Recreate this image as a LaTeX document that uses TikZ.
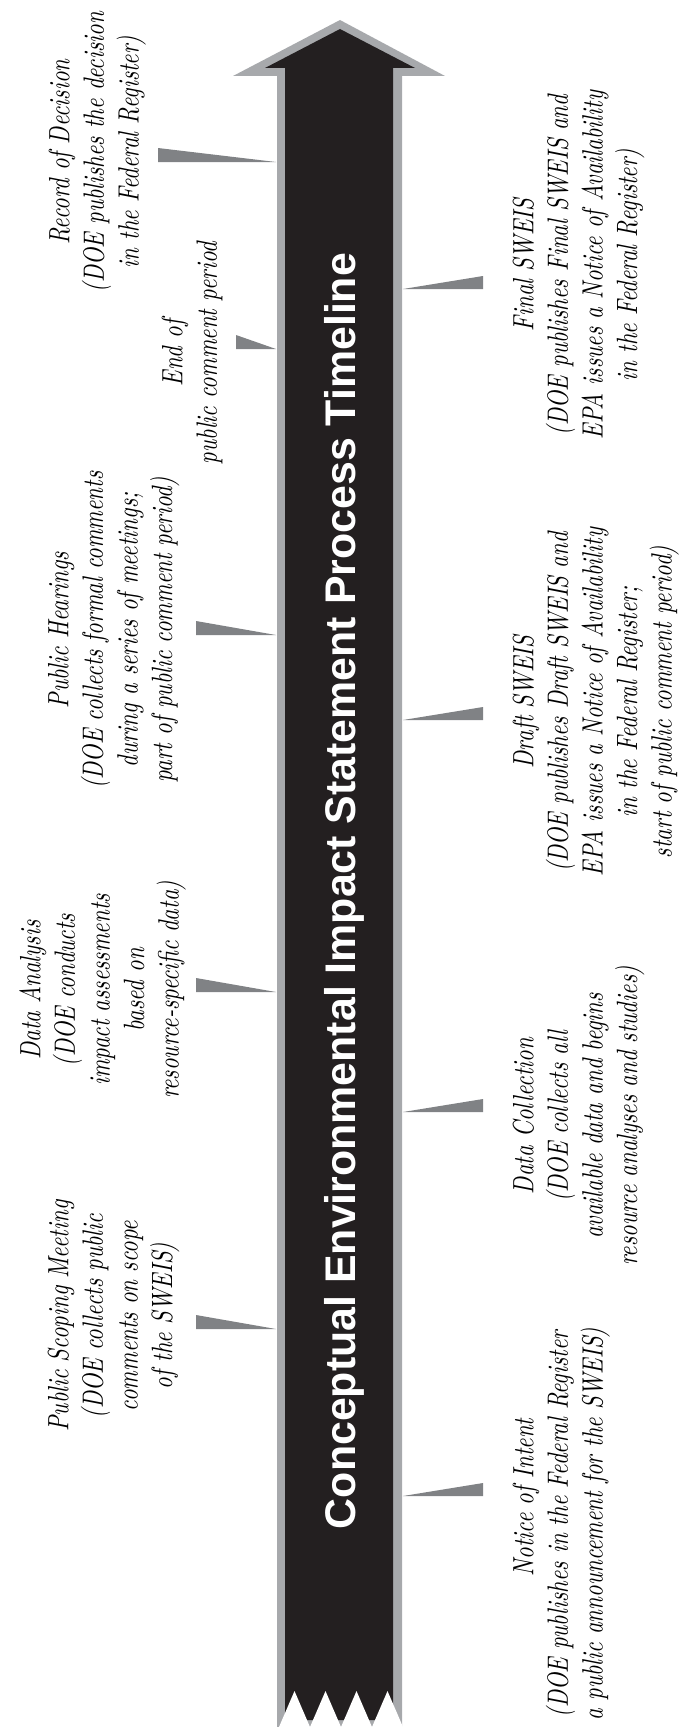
\documentclass[tikz,border=0pt]{standalone}
\usepackage{fontspec}
\newfontfamily\lblfont{lmroman10-regular}[Extension=.otf, ItalicFont=lmroman10-italic, FakeStretch=0.775]
\newfontfamily\ttlfont{Liberation Sans}
\definecolor{arrowblack}{HTML}{231F20}
\definecolor{arrowgray}{HTML}{A7A9AC}
\definecolor{wedgegray}{HTML}{808285}
\tikzset{
  lbl/.style={rotate=90, anchor=north, align=center, inner sep=0pt, text=black,
    font=\lblfont\itshape\fontsize{22}{25.9}\selectfont},
  ttl/.style={rotate=90, anchor=base, inner sep=0pt, text=white,
    font=\ttlfont\bfseries\fontsize{32.15}{38}\selectfont},
  wedge/.style={fill=wedgegray}
}
\begin{document}
\begin{tikzpicture}[x=0.75pt,y=-0.75pt]
\useasboundingbox (0,0) rectangle (678,1727);
% arrow
\fill[arrowgray] (277,1727) -- (277,76) -- (233,76) -- (340,20) -- (445,76) -- (402,76) -- (402,1727) -- cycle;
\fill[arrowblack] (285,1720) -- (285,68) -- (265,68) -- (340,29) -- (415,68) -- (393,68) -- (393,1720) -- cycle;
\foreach \a in {279,310,341,372}
  \fill[white] (\a,1727) -- (\a+15.5,1691) -- (\a+31,1727) -- cycle;
% title
\node[ttl] (title) at (355.4,891) {Conceptual Environmental Impact Statement Process Timeline};
% left wedges
\fill[wedge] (158,148) -- (158,162) -- (276,162) -- cycle;
\fill[wedge] (236,335) -- (236,349) -- (276,349) -- cycle;
\fill[wedge] (196,621) -- (196,635) -- (276,635) -- cycle;
\fill[wedge] (196,978) -- (196,992) -- (276,992) -- cycle;
\fill[wedge] (196,1315) -- (196,1329) -- (276,1329) -- cycle;
% right wedges
\fill[wedge] (403,289) -- (483,289) -- (483,276) -- cycle;
\fill[wedge] (403,720) -- (483,720) -- (483,707) -- cycle;
\fill[wedge] (403,1112) -- (483,1112) -- (483,1099) -- cycle;
\fill[wedge] (403,1496) -- (483,1496) -- (483,1483) -- cycle;
% left labels
\node[lbl] (rod) at (45,152) {\strut Record of Decision\\(DOE publishes the decision\\in the Federal Register)};
\node[lbl] (endc) at (158,353) {\strut End of\\public comment period};
\node[lbl] (hear) at (44,630) {\strut Public Hearings\\(DOE collects formal comments\\during a series of meetings;\\part of public comment period)};
\node[lbl] (anal) at (16,990) {\strut Data Analysis\\(DOE conducts\\impact assessments\\based on\\resource-specific data)};
\node[lbl] (scop) at (44,1316) {\strut Public Scoping Meeting\\(DOE collects public\\comments on scope\\of the SWEIS)};
% right labels
\node[lbl] (final) at (509,265) {\strut Final SWEIS\\(DOE publishes Final SWEIS and\\EPA issues a Notice of Availability\\in the Federal Register)};
\node[lbl] (draft) at (509,702) {\strut Draft SWEIS\\(DOE publishes Draft SWEIS and\\EPA issues a Notice of Availability\\in the Federal Register;\\start of public comment period)};
\node[lbl] (coll) at (509,1116) {\strut Data Collection\\(DOE collects all\\available data and begins\\resource analyses and studies)};
\node[lbl] (noi) at (509,1524) {\strut\hspace*{40pt}Notice of Intent\\(DOE publishes in the Federal Register\\a public announcement for the SWEIS)};
\end{tikzpicture}
\end{document}
